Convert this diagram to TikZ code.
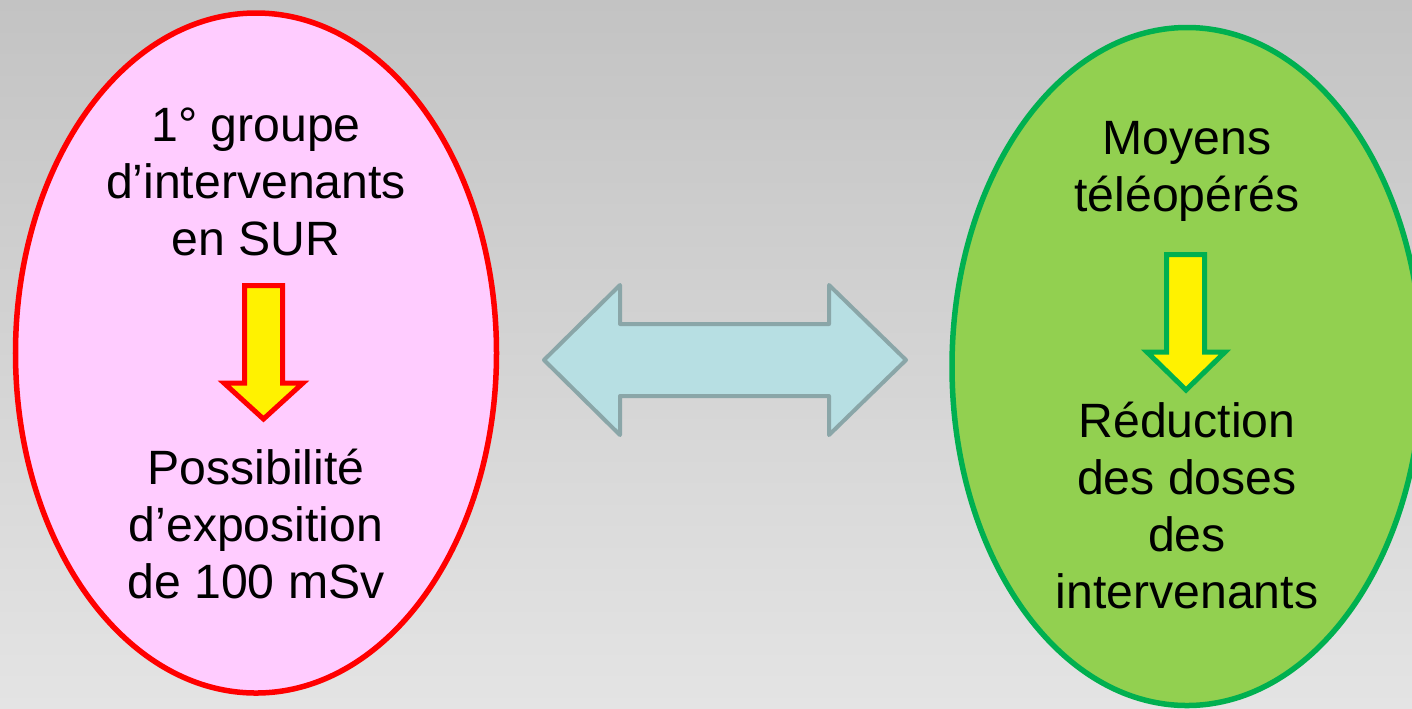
\documentclass[tikz,border=0pt]{standalone}
\usepackage{fontspec}
\setmainfont{Liberation Sans}
\usepackage{tikz}
\definecolor{bgtop}{HTML}{C3C3C3}
\definecolor{bgbot}{HTML}{E4E4E4}
\definecolor{rose}{HTML}{FFCCFF}
\definecolor{vert}{HTML}{92D050}
\definecolor{vertfonce}{HTML}{00B050}
\definecolor{bleu}{HTML}{B7DFE3}
\definecolor{bleugris}{HTML}{8AA6A8}
\tikzset{>=latex}
\tikzset{
    txt/.style={align=center, anchor=base, inner sep=0pt,
        font=\fontsize{13.7pt}{16.2pt}\selectfont},
    fleche/.style={line width=0.05cm, fill=yellow, miter limit=10},
}

\begin{document}
\begin{tikzpicture}[x=0.01cm, y=-0.01cm]
    \shade[top color=bgtop, bottom color=bgbot] (0,0) rectangle (1412,708);
    \useasboundingbox (0,0) rectangle (1412,708);
    \clip (0,0) rectangle (1412,708);
    \coordinate (G) at (256, 353);
    \coordinate (D) at (1187, 366.5);
    \draw[line width=0.055cm, draw=red, fill=rose] (G) ellipse [x radius=240.5, y radius=340];
    \draw[line width=0.055cm, draw=vertfonce, fill=vert] (D) ellipse [x radius=235, y radius=339];
    \node[txt] (groupe) at (256, 255) {1° groupe\\d’intervenants\\en SUR};
    \node[txt] (expo) at (256, 598) {Possibilité\\d’exposition\\de 100 mSv};
    \node[txt] (moyens) at (1187, 211) {Moyens\\téléopérés};
    \node[txt] (reduc) at (1187, 608) {Réduction\\des doses\\des\\intervenants};
    \draw[fleche, draw=red]
        (244.5, 285.5)--(282.5, 285.5)--(282.5, 383)--(303, 383)--(263.5, 419)
        --(224, 383)--(244.5, 383)--cycle;
    \draw[fleche, draw=vertfonce]
        (1166.5, 254.5)--(1204.5, 254.5)--(1204.5, 352)--(1225, 352)--(1186, 390)
        --(1147, 352)--(1166.5, 352)--cycle;
    \draw[line width=0.04cm, draw=bleugris, fill=bleu, line join=round]
        (544, 360)--(620, 285)--(620, 324)--(829, 324)--(829, 285)--(906, 360)
        --(829, 435)--(829, 396)--(620, 396)--(620, 435)--cycle;
\end{tikzpicture}
\end{document}
